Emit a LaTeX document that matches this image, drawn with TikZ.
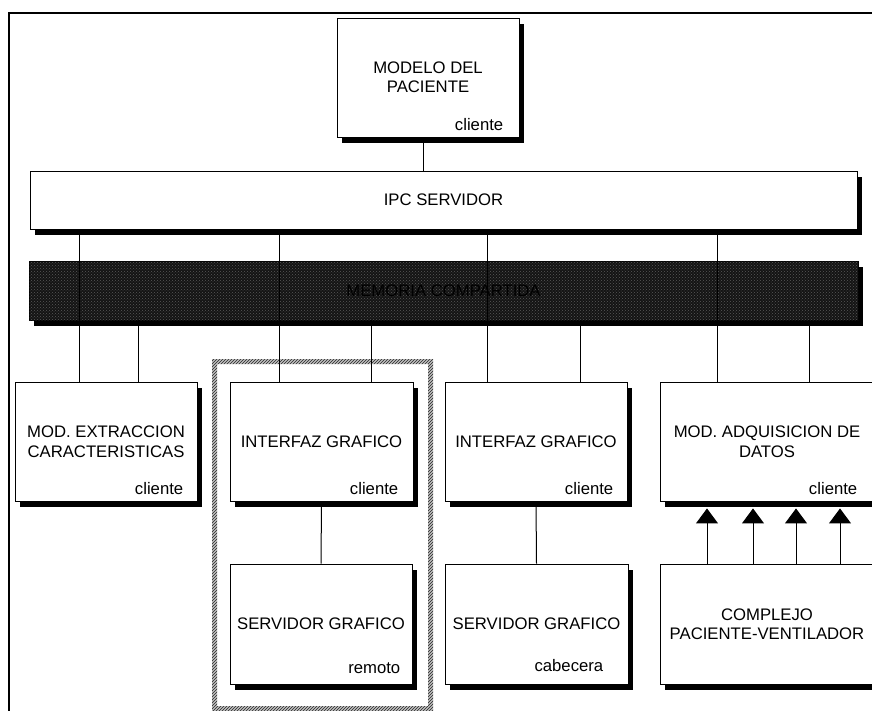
\documentclass[tikz,border=0pt]{standalone}
\usepackage{fontspec}
\setmainfont{Liberation Sans}
\usetikzlibrary{arrows.meta, positioning, calc, shadows, patterns}
\newcommand{\fuente}{\fontsize{16.7}{19.5}\selectfont}

\begin{document}
\begin{tikzpicture}[x=1pt, y=-1pt,
    modulo/.style={draw, line width=0.9pt, fill=white, align=center, font=\fuente,
      inner sep=0pt, minimum height=119pt,
      drop shadow={shadow xshift=5pt, shadow yshift=-6pt, opacity=1, fill=black}},
    rol/.style={font=\fuente, inner sep=0pt},
    conector/.style={line width=1pt},
    flecha/.style={conector, -{Triangle[width=22pt, length=15pt]}}]
  \useasboundingbox (0,0) rectangle (872,711);

  % Marco
  \draw[line width=2pt] (872,13) -- (9,13) -- (9,711);

  % Grupo remoto
  \fill[gray!50, even odd rule, postaction={pattern=north east lines, pattern color=black!85}]
    (212,359) rectangle (433,711) (217,364) rectangle (428,706);

  % Modelo del paciente
  \node[modulo, minimum width=182pt] (modelo) at (428,77.5) {MODELO DEL\\PACIENTE};
  \node[rol, above left=7pt and 16pt of modelo.south east] (modelocli) {cliente};

  % IPC servidor
  \node[modulo, minimum width=827pt, minimum height=58pt] (ipc) at (443.5,200) {IPC SERVIDOR};

  % Memoria compartida
  \node[modulo, minimum width=829pt, minimum height=59pt, fill=black!92,
    postaction={pattern=crosshatch dots, pattern color=black!65}] (mem) at (443.5,290.5) {MEMORIA COMPARTIDA};

  % Clientes
  \node[modulo, minimum width=182pt] (extr) at (106,441.5) {MOD. EXTRACCION\\CARACTERISTICAS};
  \node[rol, above left=7pt and 14pt of extr.south east] (extrcli) {cliente};

  \node[modulo, minimum width=183pt] (intf1) at (321.5,441.5) {INTERFAZ GRAFICO};
  \node[rol, above left=7pt and 15pt of intf1.south east] (intf1cli) {cliente};

  \node[modulo, minimum width=182pt] (intf2) at (536,441.5) {INTERFAZ GRAFICO};
  \node[rol, above left=7pt and 14pt of intf2.south east] (intf2cli) {cliente};

  \node[modulo, minimum width=214pt] (adq) at (767,441.5) {MOD. ADQUISICION DE\\DATOS};
  \node[rol, above left=7pt and 17pt of adq.south east] (adqcli) {cliente};

  % Servidores graficos
  \node[modulo, minimum width=182pt, minimum height=120pt] (serv1) at (321,624) {SERVIDOR GRAFICO};
  \node[rol, above left=11pt and 12pt of serv1.south east] (serv1rol) {remoto};

  \node[modulo, minimum width=183pt, minimum height=120pt] (serv2) at (536.5,624) {SERVIDOR GRAFICO};
  \node[rol, above left=13pt and 25pt of serv2.south east] (serv2rol) {cabecera};

  % Complejo
  \node[modulo, minimum width=214pt, minimum height=120pt] (compl) at (767,624) {COMPLEJO\\PACIENTE-VENTILADOR};

  % Conexiones
  \draw[conector] (modelo.south -| 423,0) -- (ipc.north -| 423,0);
  \foreach \x/\dest in {79/extr, 279/intf1, 487/intf2, 717/adq}
    \draw[conector] (ipc.south -| \x,0) -- (\dest.north -| \x,0);
  \foreach \x/\dest in {138/extr, 371/intf1, 580/intf2, 809/adq}
    \draw[conector] (mem.south -| \x,0) -- (\dest.north -| \x,0);
  \draw[conector] (intf1.south) -- (serv1.north);
  \draw[conector] (intf2.south) -- (serv2.north);

  \coordinate (adqbase) at ($(adq.south)+(0,7)$);
  \foreach \x in {707, 753, 796, 840}
    \draw[flecha] (compl.north -| \x,0) -- (adqbase -| \x,0);
\end{tikzpicture}
\end{document}
